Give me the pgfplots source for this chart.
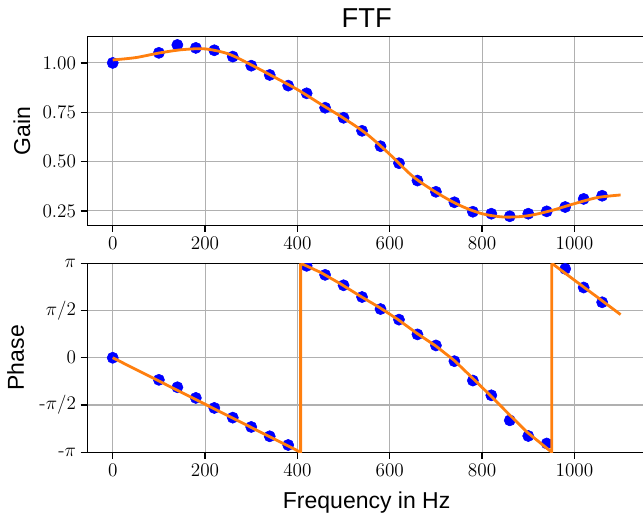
\documentclass[border=0pt]{standalone}
\usepackage{pgfplots}
\pgfplotsset{compat=1.18}
\usepackage{fontspec}
\newfontfamily\labelfont{Liberation Sans}
\definecolor{mplorange}{HTML}{FF7F0E}
\definecolor{gridgray}{HTML}{B0B0B0}

% measured gain / phase
\pgfplotstableread{
f gain phase
0 1.000 0.000
100 1.051 -0.734
140 1.091 -0.980
180 1.076 -1.335
220 1.064 -1.668
260 1.032 -1.990
300 0.986 -2.300
340 0.939 -2.610
380 0.885 -2.900
420 0.846 3.056
460 0.773 2.756
500 0.722 2.410
540 0.656 2.020
580 0.578 1.620
620 0.492 1.268
660 0.404 0.777
700 0.347 0.410
740 0.294 -0.113
780 0.246 -0.757
820 0.236 -1.248
860 0.223 -2.080
900 0.236 -2.600
940 0.248 -2.850
980 0.270 2.956
1020 0.311 2.336
1060 0.327 1.845
}\meas

% fitted model
\pgfplotstableread{
f gain
0 1.015
50 1.027
100 1.050
150 1.067
200 1.071
250 1.046
300 0.990
350 0.928
400 0.865
450 0.792
500 0.720
550 0.640
600 0.537
650 0.425
700 0.345
750 0.280
800 0.236
850 0.219
900 0.226
950 0.252
1000 0.287
1050 0.318
1100 0.331
}\fitgain

% fitted phase, wrapped, one table per branch
\pgfplotstableread{
f phase
0 0
100 -0.772
200 -1.544
300 -2.316
407 -3.1416
407 3.1416
}\fitphaseA

\pgfplotstableread{
f phase
407 3.1416
450 2.84
492 2.47
535 2.06
579 1.66
618 1.27
658 0.82
699 0.40
739 -0.08
779 -0.67
819 -1.27
859 -1.89
898 -2.48
951 -3.1416
951 3.1416
}\fitphaseB

\pgfplotstableread{
f phase
951 3.1416
1000 2.58
1050 2.01
1100 1.435
}\fitphaseC

\pgfplotsset{
  ftf/.style={
    scale only axis, width=419pt, height=141.75pt,
    xmin=-55, xmax=1155,
    xtick={0,200,...,1000},
    /pgf/number format/1000 sep={},
    grid=major, grid style={gridgray, line width=0.8pt},
    axis line style={line width=1.1pt},
    tick align=outside, tick pos=left,
    major tick length=5pt,
    every tick/.style={black, line width=1pt},
    tick label style={font=\fontsize{14.5}{17}\selectfont},
    label style={font=\labelfont\fontsize{17.25}{20}\selectfont},
    clip marker paths=true,
  },
  meas/.style={only marks, mark=*, mark size=4.2pt, blue, mark options={draw=blue, fill=blue}},
  fit/.style={mplorange, line width=2.1pt, no marks},
}

\begin{document}
\begin{tikzpicture}
\begin{axis}[ftf,
  at={(0,170.25pt)}, anchor=south west,
  ymin=0.1775, ymax=1.135,
  ytick={0.25,0.5,0.75,1.0},
  yticklabel style={/pgf/number format/.cd, fixed, fixed zerofill, precision=2},
  ylabel={Gain},
  ylabel style={at={(axis description cs:-0.1026,0.5)}, anchor=base},
  title={FTF},
  every axis title shift=0pt,
  title style={font=\labelfont\fontsize{20.5}{24}\selectfont, at={(axis description cs:0.5,1)}, anchor=base, yshift=6.75pt},
]
\addplot[meas] table[x=f, y=gain] {\meas};
\addplot[fit, smooth] table[x=f, y=gain] {\fitgain};
\end{axis}

\begin{axis}[ftf,
  at={(0,0)}, anchor=south west,
  ymin=-3.14159, ymax=3.14159,
  ytick={-3.14159,-1.5708,0,1.5708,3.14159},
  yticklabels={-$\pi$, -$\pi/2$, $0$, $\pi/2$, $\pi$},
  ylabel={Phase},
  ylabel style={at={(axis description cs:-0.1134,0.5)}, anchor=base},
  xlabel={Frequency in Hz},
  xlabel style={at={(axis description cs:0.5,0)}, anchor=base, yshift=-42pt},
]
\addplot[meas] table[x=f, y=phase] {\meas};
\addplot[fit] table[x=f, y=phase] {\fitphaseA};
\addplot[fit] table[x=f, y=phase] {\fitphaseB};
\addplot[fit] table[x=f, y=phase] {\fitphaseC};
\end{axis}
\pgfresetboundingbox
\useasboundingbox (-65.5pt,-47pt) rectangle (416.75pt,339.2pt);
\end{tikzpicture}
\end{document}
